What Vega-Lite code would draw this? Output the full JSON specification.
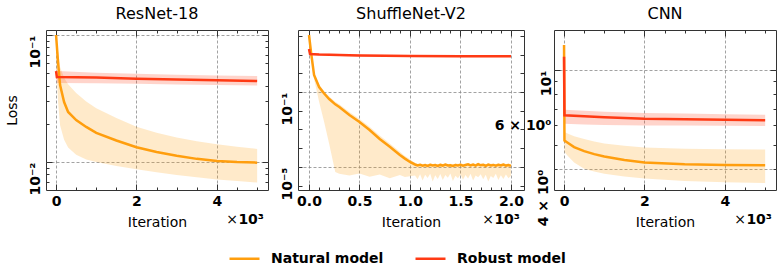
{
  "$schema": "https://vega.github.io/schema/vega-lite/v6.json",
  "padding": {"left": 4, "top": 5, "right": 0, "bottom": 0},
  "spacing": 30,
  "bounds": "flush",
  "config": {
    "font": "DejaVu Sans",
    "view": {"stroke": "#333333", "strokeWidth": 1},
    "axis": {
      "domain": false,
      "tickColor": "#333333",
      "tickWidth": 1,
      "labelFont": "DejaVu Sans",
      "labelFontWeight": "bold",
      "labelFontSize": 14,
      "labelColor": "#000000",
      "labelOverlap": false,
      "labelBound": false,
      "labelFlush": false,
      "titleFont": "DejaVu Sans",
      "titleFontWeight": "normal",
      "titleFontSize": 14,
      "titleColor": "#000000",
      "gridColor": "#8a8a8a",
      "gridDash": [3, 2],
      "gridWidth": 0.8
    },
    "title": {"font": "DejaVu Sans", "fontSize": 16, "fontWeight": "normal", "color": "#000000", "baseline": "alphabetic", "offset": 8},
    "legend": {
      "symbolType": "stroke",
      "symbolSize": 900,
      "symbolStrokeWidth": 2.5,
      "labelFont": "DejaVu Sans",
      "labelFontWeight": "bold",
      "labelFontSize": 14,
      "labelColor": "#000000",
      "labelOffset": 10,
      "columnPadding": 26
    }
  },
  "datasets": {
    "resnet": [
      {"model": "Natural model", "x": 0, "y": 0.1, "lo": 0.06, "hi": 0.1},
      {"model": "Natural model", "x": 0.05, "y": 0.061, "lo": 0.030, "hi": 0.075},
      {"model": "Natural model", "x": 0.1, "y": 0.0404, "lo": 0.0195, "hi": 0.056},
      {"model": "Natural model", "x": 0.2, "y": 0.0297, "lo": 0.0150, "hi": 0.046},
      {"model": "Natural model", "x": 0.3, "y": 0.0248, "lo": 0.0130, "hi": 0.041},
      {"model": "Natural model", "x": 0.5, "y": 0.0214, "lo": 0.0114, "hi": 0.035},
      {"model": "Natural model", "x": 0.75, "y": 0.0189, "lo": 0.0105, "hi": 0.030},
      {"model": "Natural model", "x": 1.0, "y": 0.0170, "lo": 0.0100, "hi": 0.0265},
      {"model": "Natural model", "x": 1.5, "y": 0.0148, "lo": 0.0093, "hi": 0.0222},
      {"model": "Natural model", "x": 2.0, "y": 0.0131, "lo": 0.0088, "hi": 0.0190},
      {"model": "Natural model", "x": 2.5, "y": 0.0120, "lo": 0.0083, "hi": 0.0170},
      {"model": "Natural model", "x": 3.0, "y": 0.0112, "lo": 0.0079, "hi": 0.0156},
      {"model": "Natural model", "x": 3.5, "y": 0.0106, "lo": 0.0076, "hi": 0.0146},
      {"model": "Natural model", "x": 4.0, "y": 0.0102, "lo": 0.0073, "hi": 0.0138},
      {"model": "Natural model", "x": 4.5, "y": 0.0100, "lo": 0.0071, "hi": 0.0132},
      {"model": "Natural model", "x": 5.0, "y": 0.0099, "lo": 0.0069, "hi": 0.0127},
      {"model": "Robust model", "x": 0, "y": 0.052, "lo": 0.047, "hi": 0.056},
      {"model": "Robust model", "x": 0.02, "y": 0.0467, "lo": 0.042, "hi": 0.052},
      {"model": "Robust model", "x": 1.0, "y": 0.0462, "lo": 0.0418, "hi": 0.0505},
      {"model": "Robust model", "x": 2.0, "y": 0.0453, "lo": 0.0413, "hi": 0.0495},
      {"model": "Robust model", "x": 3.0, "y": 0.0446, "lo": 0.0408, "hi": 0.0487},
      {"model": "Robust model", "x": 4.0, "y": 0.0440, "lo": 0.0404, "hi": 0.0481},
      {"model": "Robust model", "x": 5.0, "y": 0.0435, "lo": 0.0401, "hi": 0.0476}
    ],
    "shuffle": [
      {"model": "Natural model", "x": 0, "y": 110, "lo": 60, "hi": 110},
      {"model": "Natural model", "x": 0.02, "y": 13.5, "lo": 5.0, "hi": 16},
      {"model": "Natural model", "x": 0.05, "y": 0.81, "lo": 0.5, "hi": 1.0},
      {"model": "Natural model", "x": 0.1, "y": 0.185, "lo": 0.03, "hi": 0.25},
      {"model": "Natural model", "x": 0.15, "y": 0.083, "lo": 0.0025, "hi": 0.11},
      {"model": "Natural model", "x": 0.2, "y": 0.0423, "lo": 0.00017, "hi": 0.058},
      {"model": "Natural model", "x": 0.26, "y": 0.022, "lo": 5.4e-6, "hi": 0.030},
      {"model": "Natural model", "x": 0.3, "y": 0.0158, "lo": 4.3e-6, "hi": 0.022},
      {"model": "Natural model", "x": 0.4, "y": 0.0059, "lo": 3.5e-6, "hi": 0.0085},
      {"model": "Natural model", "x": 0.5, "y": 0.0025, "lo": 4.5e-6, "hi": 0.0036},
      {"model": "Natural model", "x": 0.6, "y": 0.00094, "lo": 3.0e-6, "hi": 0.0014},
      {"model": "Natural model", "x": 0.7, "y": 0.00031, "lo": 4.0e-6, "hi": 0.00048},
      {"model": "Natural model", "x": 0.8, "y": 0.00012, "lo": 2.5e-6, "hi": 0.00018},
      {"model": "Natural model", "x": 0.9, "y": 4.4e-5, "lo": 3.8e-6, "hi": 6.5e-5},
      {"model": "Natural model", "x": 0.95, "y": 2.8e-5, "lo": 2.9e-6, "hi": 3.9e-5},
      {"model": "Natural model", "x": 1.0, "y": 1.85e-5, "lo": 3.2e-6, "hi": 2.6e-5},
      {"model": "Natural model", "x": 1.05, "y": 1.36e-5, "lo": 3.5e-6, "hi": 1.6e-5},
      {"model": "Natural model", "x": 1.075, "y": 1.22e-5, "lo": 2.2e-6, "hi": 1.5e-5},
      {"model": "Natural model", "x": 1.1, "y": 1.30e-5, "lo": 4.1e-6, "hi": 1.55e-5},
      {"model": "Natural model", "x": 1.125, "y": 1.18e-5, "lo": 1.9e-6, "hi": 1.45e-5},
      {"model": "Natural model", "x": 1.15, "y": 1.27e-5, "lo": 3.9e-6, "hi": 1.5e-5},
      {"model": "Natural model", "x": 1.175, "y": 1.15e-5, "lo": 2.6e-6, "hi": 1.4e-5},
      {"model": "Natural model", "x": 1.2, "y": 1.32e-5, "lo": 4.4e-6, "hi": 1.6e-5},
      {"model": "Natural model", "x": 1.225, "y": 1.21e-5, "lo": 1.7e-6, "hi": 1.45e-5},
      {"model": "Natural model", "x": 1.25, "y": 1.26e-5, "lo": 3.6e-6, "hi": 1.5e-5},
      {"model": "Natural model", "x": 1.275, "y": 1.14e-5, "lo": 2.3e-6, "hi": 1.4e-5},
      {"model": "Natural model", "x": 1.3, "y": 1.29e-5, "lo": 4.2e-6, "hi": 1.55e-5},
      {"model": "Natural model", "x": 1.325, "y": 1.19e-5, "lo": 2.0e-6, "hi": 1.45e-5},
      {"model": "Natural model", "x": 1.35, "y": 1.35e-5, "lo": 3.8e-6, "hi": 1.6e-5},
      {"model": "Natural model", "x": 1.375, "y": 1.20e-5, "lo": 2.7e-6, "hi": 1.45e-5},
      {"model": "Natural model", "x": 1.4, "y": 1.24e-5, "lo": 4.5e-6, "hi": 1.5e-5},
      {"model": "Natural model", "x": 1.425, "y": 1.13e-5, "lo": 1.8e-6, "hi": 1.4e-5},
      {"model": "Natural model", "x": 1.45, "y": 1.28e-5, "lo": 3.4e-6, "hi": 1.55e-5},
      {"model": "Natural model", "x": 1.475, "y": 1.22e-5, "lo": 2.5e-6, "hi": 1.5e-5},
      {"model": "Natural model", "x": 1.5, "y": 1.31e-5, "lo": 4.0e-6, "hi": 1.6e-5},
      {"model": "Natural model", "x": 1.525, "y": 1.17e-5, "lo": 2.1e-6, "hi": 1.45e-5},
      {"model": "Natural model", "x": 1.55, "y": 1.27e-5, "lo": 3.7e-6, "hi": 1.5e-5},
      {"model": "Natural model", "x": 1.575, "y": 1.38e-5, "lo": 2.4e-6, "hi": 1.65e-5},
      {"model": "Natural model", "x": 1.6, "y": 1.21e-5, "lo": 4.3e-6, "hi": 1.45e-5},
      {"model": "Natural model", "x": 1.625, "y": 1.33e-5, "lo": 1.9e-6, "hi": 1.6e-5},
      {"model": "Natural model", "x": 1.65, "y": 1.18e-5, "lo": 3.5e-6, "hi": 1.45e-5},
      {"model": "Natural model", "x": 1.675, "y": 1.40e-5, "lo": 2.8e-6, "hi": 1.7e-5},
      {"model": "Natural model", "x": 1.7, "y": 1.23e-5, "lo": 4.1e-6, "hi": 1.5e-5},
      {"model": "Natural model", "x": 1.725, "y": 1.30e-5, "lo": 2.2e-6, "hi": 1.55e-5},
      {"model": "Natural model", "x": 1.75, "y": 1.16e-5, "lo": 3.9e-6, "hi": 1.4e-5},
      {"model": "Natural model", "x": 1.775, "y": 1.34e-5, "lo": 1.7e-6, "hi": 1.6e-5},
      {"model": "Natural model", "x": 1.8, "y": 1.22e-5, "lo": 3.3e-6, "hi": 1.5e-5},
      {"model": "Natural model", "x": 1.825, "y": 1.29e-5, "lo": 2.6e-6, "hi": 1.55e-5},
      {"model": "Natural model", "x": 1.85, "y": 1.17e-5, "lo": 4.4e-6, "hi": 1.45e-5},
      {"model": "Natural model", "x": 1.875, "y": 1.31e-5, "lo": 2.0e-6, "hi": 1.6e-5},
      {"model": "Natural model", "x": 1.9, "y": 1.20e-5, "lo": 3.6e-6, "hi": 1.45e-5},
      {"model": "Natural model", "x": 1.925, "y": 1.36e-5, "lo": 2.3e-6, "hi": 1.65e-5},
      {"model": "Natural model", "x": 1.95, "y": 1.19e-5, "lo": 4.0e-6, "hi": 1.45e-5},
      {"model": "Natural model", "x": 1.975, "y": 1.28e-5, "lo": 2.5e-6, "hi": 1.55e-5},
      {"model": "Natural model", "x": 2.0, "y": 1.15e-5, "lo": 3.4e-6, "hi": 1.4e-5},
      {"model": "Robust model", "x": 0, "y": 19.5, "lo": 17, "hi": 22},
      {"model": "Robust model", "x": 0.01, "y": 10.7, "lo": 9.5, "hi": 12.1},
      {"model": "Robust model", "x": 0.1, "y": 10.0, "lo": 8.85, "hi": 11.3},
      {"model": "Robust model", "x": 0.5, "y": 8.85, "lo": 7.83, "hi": 10.0},
      {"model": "Robust model", "x": 1.0, "y": 8.3, "lo": 7.35, "hi": 9.38},
      {"model": "Robust model", "x": 1.5, "y": 8.1, "lo": 7.17, "hi": 9.15},
      {"model": "Robust model", "x": 2.0, "y": 8.0, "lo": 7.08, "hi": 9.04}
    ],
    "cnn": [
      {"model": "Natural model", "x": 0, "y": 12.6, "lo": 11.5, "hi": 13.5},
      {"model": "Natural model", "x": 0.01, "y": 5.2, "lo": 4.68, "hi": 5.64},
      {"model": "Natural model", "x": 0.1, "y": 5.09, "lo": 4.5, "hi": 5.55},
      {"model": "Natural model", "x": 0.25, "y": 4.90, "lo": 4.25, "hi": 5.42},
      {"model": "Natural model", "x": 0.5, "y": 4.72, "lo": 4.01, "hi": 5.28},
      {"model": "Natural model", "x": 0.75, "y": 4.59, "lo": 3.91, "hi": 5.16},
      {"model": "Natural model", "x": 1.0, "y": 4.49, "lo": 3.83, "hi": 5.06},
      {"model": "Natural model", "x": 1.5, "y": 4.35, "lo": 3.73, "hi": 4.96},
      {"model": "Natural model", "x": 2.0, "y": 4.25, "lo": 3.66, "hi": 4.88},
      {"model": "Natural model", "x": 3.0, "y": 4.18, "lo": 3.58, "hi": 4.83},
      {"model": "Natural model", "x": 4.0, "y": 4.15, "lo": 3.54, "hi": 4.80},
      {"model": "Natural model", "x": 5.0, "y": 4.14, "lo": 3.51, "hi": 4.79},
      {"model": "Robust model", "x": 0, "y": 11.3, "lo": 10.5, "hi": 12.0},
      {"model": "Robust model", "x": 0.01, "y": 6.58, "lo": 6.08, "hi": 6.92},
      {"model": "Robust model", "x": 0.5, "y": 6.52, "lo": 6.04, "hi": 6.86},
      {"model": "Robust model", "x": 1.0, "y": 6.46, "lo": 6.01, "hi": 6.80},
      {"model": "Robust model", "x": 2.0, "y": 6.37, "lo": 5.99, "hi": 6.72},
      {"model": "Robust model", "x": 3.0, "y": 6.34, "lo": 5.98, "hi": 6.68},
      {"model": "Robust model", "x": 4.0, "y": 6.31, "lo": 5.97, "hi": 6.64},
      {"model": "Robust model", "x": 5.0, "y": 6.28, "lo": 5.96, "hi": 6.61}
    ]
  },
  "hconcat": [
    {
      "width": 222,
      "height": 160,
      "title": "ResNet-18",
      "layer": [
        {
          "data": {"name": "resnet"},
          "transform": [{"filter": "datum.model == 'Natural model'"}],
          "mark": {"type": "area", "color": "#FF9E0E", "fillOpacity": 0.22, "clip": true},
          "encoding": {
            "x": {"field": "x", "type": "quantitative", "scale": {"domain": [-0.25, 5.27], "nice": false, "zero": false},
                  "axis": {"orient": "top", "values": [0, 0.5, 1, 1.5, 2, 2.5, 3, 3.5, 4, 4.5, 5], "labels": false, "grid": false, "title": null,
                           "tickSize": {"condition": {"test": "datum.value % 2 == 0", "value": -6}, "value": -3}}},
            "y": {"field": "lo", "type": "quantitative", "scale": {"type": "log", "domain": [0.00603, 0.1095], "nice": false},
                  "axis": {"orient": "right", "values": [0.007, 0.008, 0.009, 0.01, 0.02, 0.03, 0.04, 0.05, 0.06, 0.07, 0.08, 0.09, 0.1], "labels": false, "grid": false, "title": null,
                           "tickSize": {"condition": {"test": "abs(log(datum.value)/LN10 - round(log(datum.value)/LN10)) < 1e-6", "value": -6}, "value": -3}}},
            "y2": {"field": "hi"}
          }
        },
        {
          "data": {"name": "resnet"},
          "transform": [{"filter": "datum.model == 'Robust model'"}],
          "mark": {"type": "area", "color": "#FF3A14", "fillOpacity": 0.22, "clip": true},
          "encoding": {
            "x": {"field": "x", "type": "quantitative", "axis": null},
            "y": {"field": "lo", "type": "quantitative", "axis": null},
            "y2": {"field": "hi"}
          }
        },
        {
          "data": {"name": "resnet"},
          "mark": {"type": "line", "strokeWidth": 2.5, "clip": true},
          "encoding": {
            "x": {"field": "x", "type": "quantitative",
                  "axis": {"orient": "bottom", "values": [0, 0.5, 1, 1.5, 2, 2.5, 3, 3.5, 4, 4.5, 5], "labelExpr": "datum.value % 2 == 0 ? format(datum.value, 'd') : ''",
                           "labelPadding": 10, "title": "Iteration", "titlePadding": 4, "grid": true,
                           "gridOpacity": {"condition": {"test": "datum.value % 2 == 0", "value": 1}, "value": 0},
                           "tickSize": {"condition": {"test": "datum.value % 2 == 0", "value": -6}, "value": -3}}},
            "y": {"field": "y", "type": "quantitative",
                  "axis": {"orient": "left", "values": [0.007, 0.008, 0.009, 0.01, 0.02, 0.03, 0.04, 0.05, 0.06, 0.07, 0.08, 0.09, 0.1],
                           "labelExpr": "abs(datum.value - 0.1) < 1e-9 ? '10⁻¹' : (abs(datum.value - 0.01) < 1e-9 ? '10⁻²' : '')",
                           "labelAngle": 270, "labelAlign": "right", "labelBaseline": "alphabetic", "labelPadding": 13,
                           "title": "Loss", "titlePadding": 6, "grid": true,
                           "gridOpacity": {"condition": {"test": "abs(datum.value - 0.1) < 1e-9 || abs(datum.value - 0.01) < 1e-9", "value": 1}, "value": 0},
                           "tickSize": {"condition": {"test": "abs(log(datum.value)/LN10 - round(log(datum.value)/LN10)) < 1e-6", "value": -6}, "value": -3}}},
            "color": {"field": "model", "type": "nominal", "scale": {"domain": ["Natural model", "Robust model"], "range": ["#FF9E0E", "#FF3A14"]},
                      "legend": {"title": null, "orient": "none", "legendX": 182, "legendY": 212, "direction": "horizontal"}}
          }
        },
        {
          "data": {"values": [{"t": "10³"}]},
          "mark": {"type": "text", "text": "10³", "font": "DejaVu Sans", "fontWeight": "bold", "fontSize": 14, "align": "right", "baseline": "alphabetic", "dx": -4, "dy": 34, "color": "#000000"},
          "encoding": {"x": {"datum": 5.27, "type": "quantitative", "axis": null}, "y": {"datum": 0.00603, "type": "quantitative", "axis": null}}
        },
        {
          "data": {"values": [{"t": "×"}]},
          "mark": {"type": "text", "text": "×", "font": "DejaVu Sans", "fontWeight": "normal", "fontSize": 14, "align": "right", "baseline": "alphabetic", "dx": -30, "dy": 34, "color": "#000000"},
          "encoding": {"x": {"datum": 5.27, "type": "quantitative", "axis": null}, "y": {"datum": 0.00603, "type": "quantitative", "axis": null}}
        }
      ],
      "resolve": {"axis": {"x": "independent", "y": "independent"}}
    },
    {
      "width": 226,
      "height": 160,
      "title": "ShuffleNet-V2",
      "layer": [
        {
          "data": {"name": "shuffle"},
          "transform": [{"filter": "datum.model == 'Natural model'"}],
          "mark": {"type": "area", "color": "#FF9E0E", "fillOpacity": 0.22, "clip": true},
          "encoding": {
            "x": {"field": "x", "type": "quantitative", "scale": {"domain": [-0.109, 2.129], "nice": false, "zero": false},
                  "axis": {"orient": "top", "values": [0, 0.1, 0.2, 0.3, 0.4, 0.5, 0.6, 0.7, 0.8, 0.9, 1, 1.1, 1.2, 1.3, 1.4, 1.5, 1.6, 1.7, 1.8, 1.9, 2], "labels": false, "grid": false, "title": null,
                           "tickSize": {"condition": {"test": "abs(datum.value * 2 - round(datum.value * 2)) < 1e-6", "value": -6}, "value": -3}}},
            "y": {"field": "lo", "type": "quantitative", "scale": {"type": "log", "domain": [5.93e-7, 202.8], "nice": false},
                  "axis": {"orient": "right", "values": [1e-6, 1e-5, 1e-4, 1e-3, 1e-2, 1e-1, 1, 10, 100], "labels": false, "grid": false, "title": null, "tickSize": -4}},
            "y2": {"field": "hi"}
          }
        },
        {
          "data": {"name": "shuffle"},
          "transform": [{"filter": "datum.model == 'Robust model'"}],
          "mark": {"type": "area", "color": "#FF3A14", "fillOpacity": 0.22, "clip": true},
          "encoding": {
            "x": {"field": "x", "type": "quantitative", "axis": null},
            "y": {"field": "lo", "type": "quantitative", "axis": null},
            "y2": {"field": "hi"}
          }
        },
        {
          "data": {"name": "shuffle"},
          "mark": {"type": "line", "strokeWidth": 2.5, "clip": true},
          "encoding": {
            "x": {"field": "x", "type": "quantitative",
                  "axis": {"orient": "bottom", "values": [0, 0.1, 0.2, 0.3, 0.4, 0.5, 0.6, 0.7, 0.8, 0.9, 1, 1.1, 1.2, 1.3, 1.4, 1.5, 1.6, 1.7, 1.8, 1.9, 2],
                           "labelExpr": "abs(datum.value * 2 - round(datum.value * 2)) < 1e-6 ? format(datum.value, '.1f') : ''",
                           "labelPadding": 10, "title": "Iteration", "titlePadding": 4, "grid": true,
                           "gridOpacity": {"condition": {"test": "abs(datum.value * 2 - round(datum.value * 2)) < 1e-6", "value": 1}, "value": 0},
                           "tickSize": {"condition": {"test": "abs(datum.value * 2 - round(datum.value * 2)) < 1e-6", "value": -6}, "value": -3}}},
            "y": {"field": "y", "type": "quantitative",
                  "axis": {"orient": "left", "values": [1e-6, 1e-5, 1e-4, 1e-3, 1e-2, 1e-1, 1, 10, 100],
                           "labelExpr": "abs(log(datum.value)/LN10 + 1) < 1e-6 ? '10⁻¹' : (abs(log(datum.value)/LN10 + 5) < 1e-6 ? '10⁻⁵' : '')",
                           "labelAngle": 270, "labelAlign": "right", "labelBaseline": "alphabetic", "labelPadding": 11,
                           "title": null, "grid": true, "tickSize": -4,
                           "gridOpacity": {"condition": {"test": "abs(log(datum.value)/LN10 + 1) < 1e-6 || abs(log(datum.value)/LN10 + 5) < 1e-6", "value": 1}, "value": 0}}},
            "color": {"field": "model", "type": "nominal", "scale": {"domain": ["Natural model", "Robust model"], "range": ["#FF9E0E", "#FF3A14"]},
                      "legend": {"title": null, "orient": "none", "legendX": 182, "legendY": 212, "direction": "horizontal"}}
          }
        },
        {
          "data": {"values": [{"t": "10³"}]},
          "mark": {"type": "text", "text": "10³", "font": "DejaVu Sans", "fontWeight": "bold", "fontSize": 14, "align": "right", "baseline": "alphabetic", "dx": -4, "dy": 34, "color": "#000000"},
          "encoding": {"x": {"datum": 2.129, "type": "quantitative", "axis": null}, "y": {"datum": 5.93e-7, "type": "quantitative", "axis": null}}
        },
        {
          "data": {"values": [{"t": "×"}]},
          "mark": {"type": "text", "text": "×", "font": "DejaVu Sans", "fontWeight": "normal", "fontSize": 14, "align": "right", "baseline": "alphabetic", "dx": -30, "dy": 34, "color": "#000000"},
          "encoding": {"x": {"datum": 2.129, "type": "quantitative", "axis": null}, "y": {"datum": 5.93e-7, "type": "quantitative", "axis": null}}
        }
      ],
      "resolve": {"axis": {"x": "independent", "y": "independent"}}
    },
    {
      "width": 222,
      "height": 160,
      "title": "CNN",
      "layer": [
        {
          "data": {"name": "cnn"},
          "transform": [{"filter": "datum.model == 'Natural model'"}],
          "mark": {"type": "area", "color": "#FF9E0E", "fillOpacity": 0.22, "clip": true},
          "encoding": {
            "x": {"field": "x", "type": "quantitative", "scale": {"domain": [-0.25, 5.27], "nice": false, "zero": false},
                  "axis": {"orient": "top", "values": [0, 0.5, 1, 1.5, 2, 2.5, 3, 3.5, 4, 4.5, 5], "labels": false, "grid": false, "title": null,
                           "tickSize": {"condition": {"test": "datum.value % 2 == 0", "value": -6}, "value": -3}}},
            "y": {"field": "lo", "type": "quantitative", "scale": {"type": "log", "domain": [3.293, 14.49], "nice": false},
                  "axis": {"orient": "right", "values": [4, 5, 6, 7, 8, 9, 10], "labels": false, "grid": false, "title": null,
                           "tickSize": {"condition": {"test": "datum.value == 10", "value": -6}, "value": -3}}},
            "y2": {"field": "hi"}
          }
        },
        {
          "data": {"name": "cnn"},
          "transform": [{"filter": "datum.model == 'Robust model'"}],
          "mark": {"type": "area", "color": "#FF3A14", "fillOpacity": 0.22, "clip": true},
          "encoding": {
            "x": {"field": "x", "type": "quantitative", "axis": null},
            "y": {"field": "lo", "type": "quantitative", "axis": null},
            "y2": {"field": "hi"}
          }
        },
        {
          "data": {"name": "cnn"},
          "mark": {"type": "line", "strokeWidth": 2.5, "clip": true},
          "encoding": {
            "x": {"field": "x", "type": "quantitative",
                  "axis": {"orient": "bottom", "values": [0, 0.5, 1, 1.5, 2, 2.5, 3, 3.5, 4, 4.5, 5], "labelExpr": "datum.value % 2 == 0 ? format(datum.value, 'd') : ''",
                           "labelPadding": 10, "title": "Iteration", "titlePadding": 4, "grid": true,
                           "gridOpacity": {"condition": {"test": "datum.value % 2 == 0", "value": 1}, "value": 0},
                           "tickSize": {"condition": {"test": "datum.value % 2 == 0", "value": -6}, "value": -3}}},
            "y": {"field": "y", "type": "quantitative",
                  "axis": {"orient": "left", "values": [4, 5, 6, 7, 8, 9, 10],
                           "labelExpr": "datum.value == 10 ? '10¹' : (datum.value == 6 ? '6 × 10⁰' : (datum.value == 4 ? '4 × 10⁰' : ''))",
                           "labelAlign": "right",
                           "labelBaseline": {"condition": {"test": "datum.value == 6", "value": "middle"}, "value": "alphabetic"},
                           "labelPadding": {"condition": {"test": "datum.value == 6", "value": 6}, "value": 10},
                           "encoding": {"labels": {"angle": {"condition": {"test": "datum.value == 6", "value": 0}, "value": 270}}},
                           "title": null, "grid": true,
                           "gridOpacity": {"condition": {"test": "datum.value == 10 || datum.value == 4", "value": 1}, "value": 0},
                           "tickSize": {"condition": {"test": "datum.value == 10", "value": -6}, "value": -3}}},
            "color": {"field": "model", "type": "nominal", "scale": {"domain": ["Natural model", "Robust model"], "range": ["#FF9E0E", "#FF3A14"]},
                      "legend": {"title": null, "orient": "none", "legendX": 182, "legendY": 212, "direction": "horizontal"}}
          }
        },
        {
          "data": {"values": [{"t": "10³"}]},
          "mark": {"type": "text", "text": "10³", "font": "DejaVu Sans", "fontWeight": "bold", "fontSize": 14, "align": "right", "baseline": "alphabetic", "dx": -4, "dy": 34, "color": "#000000"},
          "encoding": {"x": {"datum": 5.27, "type": "quantitative", "axis": null}, "y": {"datum": 3.293, "type": "quantitative", "axis": null}}
        },
        {
          "data": {"values": [{"t": "×"}]},
          "mark": {"type": "text", "text": "×", "font": "DejaVu Sans", "fontWeight": "normal", "fontSize": 14, "align": "right", "baseline": "alphabetic", "dx": -30, "dy": 34, "color": "#000000"},
          "encoding": {"x": {"datum": 5.27, "type": "quantitative", "axis": null}, "y": {"datum": 3.293, "type": "quantitative", "axis": null}}
        }
      ],
      "resolve": {"axis": {"x": "independent", "y": "independent"}}
    }
  ]
}
